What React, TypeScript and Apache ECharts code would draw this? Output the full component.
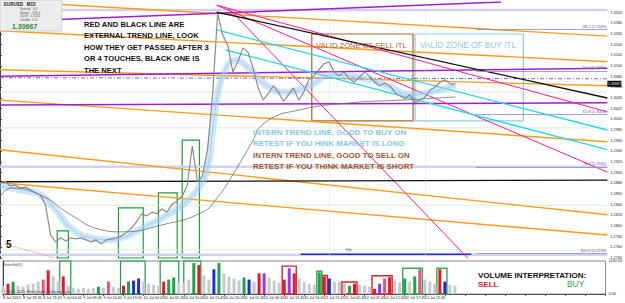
import React, { useEffect, useRef } from "react";
import * as echarts from "echarts";

// ---------- data ----------
const tickLabels = [
  "8 Jul 2013", "8 Jul 18:45", "8 Jul 23:45", "9 Jul 04:45", "9 Jul 09:45", "9 Jul 14:45",
  "9 Jul 19:45", "10 Jul 00:45", "10 Jul 05:45", "10 Jul 10:45", "10 Jul 15:45", "10 Jul 20:45",
  "11 Jul 01:45", "11 Jul 06:45", "11 Jul 11:45", "11 Jul 16:45", "11 Jul 21:45", "12 Jul 02:45",
  "12 Jul 07:45", "12 Jul 12:45", "12 Jul 17:45", "12 Jul 22:45",
];

const closePrices = [
  1.2881, 1.2884, 1.2875, 1.2877, 1.2871, 1.2873, 1.2868, 1.2862, 1.2858, 1.2839,
  1.2783, 1.2770, 1.2778, 1.2772, 1.2778, 1.2776, 1.2778, 1.2774, 1.2770, 1.2774,
  1.2766, 1.2774, 1.2776, 1.2778, 1.2781, 1.2789, 1.2796, 1.2808, 1.2823, 1.2819,
  1.2826, 1.2823, 1.2832, 1.2826, 1.2841, 1.2847, 1.2856, 1.2877, 1.2950, 1.2883,
  1.2894, 1.2943, 1.3046, 1.3198, 1.3158, 1.3139, 1.3089, 1.3108, 1.3134, 1.3126,
  1.3096, 1.3059, 1.3036, 1.3048, 1.3063, 1.3051, 1.3034, 1.3046, 1.3059, 1.3036,
  1.3051, 1.3074, 1.3081, 1.3093, 1.3104, 1.3108, 1.3089, 1.3081, 1.3089, 1.3076,
  1.3070, 1.3079, 1.3089, 1.3081, 1.3070, 1.3063, 1.3068, 1.3063, 1.3051, 1.3044,
  1.3038, 1.3046, 1.3031, 1.3036, 1.3042, 1.3055, 1.3061, 1.3070, 1.3074, 1.3066,
  1.30667,
];

const fastMA = [
  [0, 1.2875], [4, 1.2868], [8, 1.2858], [11, 1.283], [14, 1.2796], [18, 1.2778],
  [22, 1.2774], [25, 1.2781], [28, 1.2796], [32, 1.2815], [36, 1.2839], [39, 1.2868],
  [41, 1.2909], [42, 1.298], [43, 1.3046], [44.5, 1.3093], [46.5, 1.3111], [49.5, 1.3093],
  [52.5, 1.3064], [56.5, 1.3051], [61.4, 1.3064], [65.3, 1.3083], [69.3, 1.3081],
  [73.3, 1.3074], [77.2, 1.3059], [81.2, 1.3046], [85.1, 1.3051], [90, 1.3064],
];

const slowMA = [
  [0, 1.2856], [2.4, 1.2871], [8, 1.2858], [14, 1.2821], [20, 1.2793], [24, 1.2789],
  [32, 1.2802], [40, 1.2826], [43, 1.2854], [46, 1.2896], [49.5, 1.2952], [52.5, 1.2995],
  [59.4, 1.3018], [69.3, 1.3031], [79.2, 1.3036], [90, 1.3042],
];

const volumeValues = [
  275, 344, 413, 275, 241, 309, 344, 413, 481, 791,
  584, 413, 584, 275, 206, 172, 206, 172, 206, 241,
  206, 413, 241, 206, 275, 413, 447, 516, 413, 344,
  309, 275, 413, 481, 550, 413, 378, 481, 1031, 963,
  619, 481, 825, 1031, 688, 584, 516, 447, 550, 481,
  413, 688, 688, 550, 447, 378, 481, 859, 688, 516,
  413, 344, 309, 720, 585, 516, 413, 413, 344, 275,
  344, 309, 275, 241, 172, 344, 516, 560, 447, 378,
  516, 413, 584, 825, 481, 413, 344, 825, 413, 309,
  275,
];
// 0 grey, 1 red, 2 green, 3 blue, 4 purple, 5 pink
const volumeKinds = [
  0, 1, 2, 0, 0, 0, 0, 0, 5, 1,
  0, 0, 1, 0, 0, 0, 0, 0, 0, 2,
  0, 5, 0, 0, 1, 2, 3, 3, 0, 0,
  0, 0, 1, 2, 2, 0, 0, 0, 2, 1,
  0, 0, 3, 2, 0, 0, 0, 0, 2, 3,
  0, 1, 4, 0, 0, 0, 1, 4, 1, 0,
  0, 0, 0, 2, 1, 3, 0, 0, 0, 2,
  1, 0, 0, 0, 1, 4, 5, 1, 0, 0,
  2, 0, 2, 5, 0, 0, 0, 1, 3, 0,
  0,
];

// trend lines: [x1, price1, x2, price2]
const orangeLines = [
  [0, 1.3222, 120, 1.3156],
  [0, 1.3166, 120, 1.3108],
  [0, 1.3093, 120, 1.3063],
  [0, 1.3036, 120, 1.2958],
  [0, 1.2943, 120, 1.2821],
  [0, 1.2881, 120, 1.2783],
];
const pinkLines = [
  [42.8, 1.3214, 120, 1.3014],
  [42.8, 1.3214, 120, 1.2901],
  [45.1, 1.3209, 93.1, 1.2733],
];
const pinkDotted = [[1, 1.2766, 10.9, 1.274]];
const blackLines = [
  [42.8, 1.3201, 120, 1.304],
  [0, 1.2883, 120, 1.2886],
];
const cyanLines = [
  [42.6, 1.3168, 120, 1.298],
  [44.6, 1.313, 120, 1.2943],
];
const purpleLines = [
  [0, 1.3183, 99, 1.322],
  [0, 1.3081, 120, 1.3096],
  [0, 1.3027, 120, 1.3031],
];
const dashDotLines = [[0, 1.3078, 120, 1.3076]];
const lavenderLines = [
  [0, 1.3205, 120, 1.3205],
  [0, 1.2911, 120, 1.2911],
  [0, 1.2746, 120, 1.2746],
];
const paleGreenLines = [
  [0, 1.3051, 120, 1.3051],
  [0, 1.2984, 120, 1.2984],
  [0, 1.2839, 120, 1.2839],
  [0, 1.2755, 120, 1.2755],
];
const blueLines = [[59.4, 1.2747, 93.1, 1.2747]];

const fibLevels = ["38.2", "50.0", "61.8", "78.6", "100.0"];
const fibPrices = [1.3169, 1.3091, 1.301, 1.2911, 1.2749];

const greenBoxX = [[11.3, 13.5], [23.4, 28.3], [31.3, 35.0], [36.0, 39.4]];
const greenBoxTop = [1.2791, 1.2834, 1.2862, 1.2961];
const sellZone = [61.6, 1.316, 81.6, 1.2997];
const buyZone = [82.0, 1.316, 103.4, 1.2997];

const volRedBoxes = [[55.6, 58.4, 928], [63.6, 64.6, 619], [67.5, 70.5, 400], [73.5, 77.5, 610]];
const volGreenBoxes = [[62.5, 63.5, 756], [79.6, 83.5, 860], [86.4, 88.4, 860]];

const dottedVerticals = [65, 84];

const noteLeft = [
  "RED AND BLACK LINE ARE",
  "EXTERNAL TREND LINE, LOOK",
  "HOW THEY GET PASSED AFTER 3",
  "OR 4 TOUCHES, BLACK ONE IS",
  "THE NEXT",
];
const noteBuy = ["INTERN TREND LINE, GOOD TO BUY ON", "RETEST IF YOU HINK MARKET IS LONG"];
const noteSell = ["INTERN TREND LINE, GOOD TO SELL ON", "RETEST IF YOU THINK MARKET IS SHORT"];

// ---------- styles ----------
const FONT = "Liberation Sans, Arial, sans-serif";
const VOL_COLORS = ["#c5cad1", "#e0192f", "#1fa34a", "#1f2fd6", "#9a35f0", "#e8557a"];

function segs(arr: number[][], color: string, width: number, type: any = "solid", z = 2) {
  return arr.map((l) => ({
    type: "line",
    xAxisIndex: 0,
    yAxisIndex: 0,
    data: [[l[0], l[1]], [l[2], l[3]]],
    symbol: "none",
    silent: true,
    clip: true,
    lineStyle: { color, width, type },
    z,
  }));
}

function buildOption() {
  const last = closePrices[closePrices.length - 1];
  const priceData = closePrices.map((p, i) => [i, p]);
  const volData = volumeValues.map((v, i) => ({
    value: [i, v],
    itemStyle: { color: VOL_COLORS[volumeKinds[i]] },
  }));

  const boxStyle = (c: string, w = 1.2) => ({ color: "rgba(0,0,0,0)", borderColor: c, borderWidth: w });

  const mainAreas: any[] = greenBoxX.map((b, k) => [
    { coord: [b[0], greenBoxTop[k]], itemStyle: boxStyle("#1e9e3a") },
    { coord: [b[1], 1.274] },
  ]);
  mainAreas.push([{ coord: [sellZone[0], sellZone[1]], itemStyle: boxStyle("#b0642a") }, { coord: [sellZone[2], sellZone[3]] }]);
  mainAreas.push([{ coord: [buyZone[0], buyZone[1]], itemStyle: boxStyle("#8ccbe4") }, { coord: [buyZone[2], buyZone[3]] }]);

  const volAreas: any[] = greenBoxX.map((b) => [
    { coord: [b[0], 1100], itemStyle: boxStyle("#1e9e3a") },
    { coord: [b[1], 0] },
  ]);
  volRedBoxes.forEach((b) =>
    volAreas.push([{ coord: [b[0], b[2]], itemStyle: boxStyle("#e02020", 1.4) }, { coord: [b[1], 0] }])
  );
  volGreenBoxes.forEach((b) =>
    volAreas.push([{ coord: [b[0], b[2]], itemStyle: boxStyle("#3aa84a", 1.4) }, { coord: [b[1], 0] }])
  );

  const fibMarks: any[] = fibPrices.map((p, k) => [
    {
      coord: [94, p],
      lineStyle: { color: "#8a8ac8", width: 0.8, type: "solid" },
      label: {
        show: true,
        position: "insideEndTop",
        formatter: `${fibLevels[k]} (${p.toFixed(4)})`,
        fontSize: 4,
        color: "#5656a8",
        distance: 1,
        fontFamily: FONT,
      },
    },
    { coord: [120, p] },
  ]);
  dottedVerticals.forEach((x) =>
    fibMarks.push({ xAxis: x, lineStyle: { color: "#d4d4d4", width: 0.8, type: "dotted" }, label: { show: false } })
  );

  const texts: any[] = [];
  noteLeft.forEach((t, k) =>
    texts.push({
      type: "text", x: 84, y: 24 + k * 11.6, z: 20,
      style: { text: t, fill: "#111", font: `bold 7.6px ${FONT}`, verticalAlign: "middle" },
    })
  );
  noteBuy.forEach((t, k) =>
    texts.push({
      type: "text", x: 253, y: 132 + k * 11.3, z: 20,
      style: { text: t, fill: "#86c8e4", font: `bold 7.9px ${FONT}`, verticalAlign: "middle" },
    })
  );
  noteSell.forEach((t, k) =>
    texts.push({
      type: "text", x: 253, y: 155 + k * 11.3, z: 20,
      style: { text: t, fill: "#a4582a", font: `bold 7.9px ${FONT}`, verticalAlign: "middle" },
    })
  );
  texts.push(
    { type: "text", x: 316, y: 45, z: 20, style: { text: "VALID ZONE OF SELL ITL", fill: "#b0642a", font: `7.6px ${FONT}`, verticalAlign: "middle" } },
    { type: "text", x: 420, y: 45, z: 20, style: { text: "VALID ZONE OF BUY ITL", fill: "#8ccbe4", font: `8.3px ${FONT}`, verticalAlign: "middle" } },
    { type: "text", x: 478, y: 275, z: 20, style: { text: "VOLUME INTERPRETATION:", fill: "#111", font: `bold 8px ${FONT}`, verticalAlign: "middle" } },
    { type: "text", x: 478, y: 284, z: 20, style: { text: "SELL", fill: "#e0192f", font: `bold 8px ${FONT}`, verticalAlign: "middle" } },
    { type: "text", x: 567, y: 284, z: 20, style: { text: "BUY", fill: "#2eaa3a", font: `8.4px ${FONT}`, verticalAlign: "middle" } },
    { type: "text", x: 6, y: 244, z: 20, style: { text: "5", fill: "#111", font: `bold 10px ${FONT}`, verticalAlign: "middle" } },
    { type: "rect", shape: { x: 0, y: 0, width: 62, height: 31 }, z: 15, style: { fill: "#ececec", stroke: "#c8c8c8", lineWidth: 0.8 } },
    { type: "text", x: 4, y: 4, z: 20, style: { text: "EURUSD   M15", fill: "#222", font: `bold 4.5px ${FONT}`, verticalAlign: "middle" } },
    { type: "text", x: 20, y: 9, z: 20, style: { text: "Spread:  0.6", fill: "#555", font: `3.2px ${FONT}`, verticalAlign: "middle" } },
    { type: "text", x: 20, y: 12.5, z: 20, style: { text: "Range:  133.9", fill: "#555", font: `3.2px ${FONT}`, verticalAlign: "middle" } },
    { type: "text", x: 20, y: 16, z: 20, style: { text: "Open:  1.3132", fill: "#555", font: `3.2px ${FONT}`, verticalAlign: "middle" } },
    { type: "text", x: 20, y: 19.5, z: 20, style: { text: "Candle: 0:11", fill: "#555", font: `3.2px ${FONT}`, verticalAlign: "middle" } },
    { type: "text", x: 12, y: 26, z: 20, style: { text: last.toFixed(5), fill: "#2e8b3a", font: `bold 7px ${FONT}`, verticalAlign: "middle" } },
    { type: "text", x: 3, y: 265, z: 20, style: { text: "BetterVol(V)", fill: "#444", font: `3.6px ${FONT}`, verticalAlign: "middle" } },
    { type: "text", x: 4, y: 292, z: 20, style: { text: "\u00a9 2001-2013, MetaQuotes Software Corp.", fill: "#444", font: `3.6px ${FONT}`, verticalAlign: "middle" } },
    { type: "text", x: 346, y: 250, z: 20, style: { text: "Fib.", fill: "#3a3acc", font: `3.8px ${FONT}`, verticalAlign: "middle" } }
  );

  return {
    animation: false,
    backgroundColor: "#ffffff",
    grid: [
      { left: 0, right: 14, top: 2, height: 256 },
      { left: 0, right: 14, top: 261, height: 33, show: true, borderColor: "#8a8a8a", borderWidth: 1 },
    ],
    xAxis: [
      { type: "value", gridIndex: 0, min: 0, max: 120, show: true, axisLine: { show: false }, axisTick: { show: false }, axisLabel: { show: false }, splitLine: { show: false } },
      {
        type: "value", gridIndex: 1, min: 0, max: 120, interval: 4,
        axisLine: { show: true, lineStyle: { color: "#555" } },
        axisTick: { show: true, length: 2, lineStyle: { color: "#555" } },
        axisLabel: {
          fontSize: 3.8, color: "#222", margin: 2, align: "left", fontFamily: FONT,
          formatter: (v: number) => tickLabels[Math.round(v / 4)] ?? "",
        },
        splitLine: { show: false },
      },
    ],
    yAxis: [
      {
        type: "value", gridIndex: 0, position: "right", min: 1.274, max: 1.322, interval: 0.002,
        axisLine: { show: true, lineStyle: { color: "#444" } },
        axisTick: { show: true, length: 2, lineStyle: { color: "#444" } },
        axisLabel: { fontSize: 3.8, color: "#222", margin: 3, fontFamily: FONT, formatter: (v: number) => v.toFixed(4), showMaxLabel: false },
        splitLine: { show: false },
      },
      {
        type: "value", gridIndex: 1, position: "right", min: 0, max: 1100, interval: 1100,
        axisLine: { show: true, lineStyle: { color: "#444" } },
        axisTick: { show: false },
        axisLabel: { fontSize: 3.8, color: "#222", margin: 3, fontFamily: FONT, formatter: (v: number) => (v === 0 ? "0.00" : v.toFixed(2)) },
        splitLine: { show: false },
      },
    ],
    series: [
      ...segs(paleGreenLines, "#d3f0d3", 1, "solid", 1),
      ...segs(lavenderLines, "#d2d2ee", 2.6, "solid", 1),
      ...segs(orangeLines, "#ff9a1a", 1.4),
      ...segs(purpleLines, "#9b1fd0", 1.5),
      ...segs(dashDotLines, "#6b6bd0", 1, [4, 2, 1, 2]),
      ...segs(blueLines, "#2a2acc", 1.4),
      ...segs(pinkLines, "#ff1a8c", 1),
      ...segs(pinkDotted, "#ff7a9a", 1, "dotted"),
      ...segs(cyanLines, "#22d8ee", 1.3),
      ...segs(blackLines, "#111111", 1.3),
      {
        type: "line", xAxisIndex: 0, yAxisIndex: 0, data: fastMA, smooth: true, symbol: "none", silent: true, z: 3,
        lineStyle: { color: "rgba(150,200,245,0.45)", width: 7 },
      },
      {
        type: "line", xAxisIndex: 0, yAxisIndex: 0, data: fastMA, smooth: true, symbol: "none", silent: true, z: 3,
        lineStyle: { color: "#9cc9f2", width: 0.9 },
      },
      {
        type: "line", xAxisIndex: 0, yAxisIndex: 0, data: slowMA, smooth: true, symbol: "none", silent: true, z: 3,
        lineStyle: { color: "#6f6f6f", width: 0.8 },
      },
      {
        type: "line", xAxisIndex: 0, yAxisIndex: 0, data: priceData, symbol: "none", silent: true, z: 5,
        lineStyle: { color: "#8a8a8a", width: 1.2 },
        markArea: { silent: true, data: mainAreas },
        markLine: { silent: true, symbol: ["none", "none"], data: fibMarks },
        markPoint: {
          silent: true, symbol: "rect", symbolSize: [14, 6], symbolOffset: [7, 0],
          itemStyle: { color: "#000" },
          label: { show: true, color: "#fff", fontSize: 3.6, fontFamily: FONT, formatter: last.toFixed(5) },
          data: [{ coord: [120, last] }],
        },
      },
      {
        type: "bar", xAxisIndex: 1, yAxisIndex: 1, data: volData, barWidth: 3, silent: true,
        markArea: { silent: true, data: volAreas },
      },
    ],
    graphic: texts,
  };
}

export default function App() {
  const ref = useRef<HTMLDivElement>(null);
  useEffect(() => {
    if (!ref.current) return;
    const chart = echarts.init(ref.current, null, { renderer: "svg" });
    chart.setOption(buildOption() as any);
    return () => chart.dispose();
  }, []);
  return (
    <div
      ref={ref}
      style={{ position: "fixed", left: 0, top: 0, width: 625, height: 303, background: "#fff" }}
    />
  );
}
